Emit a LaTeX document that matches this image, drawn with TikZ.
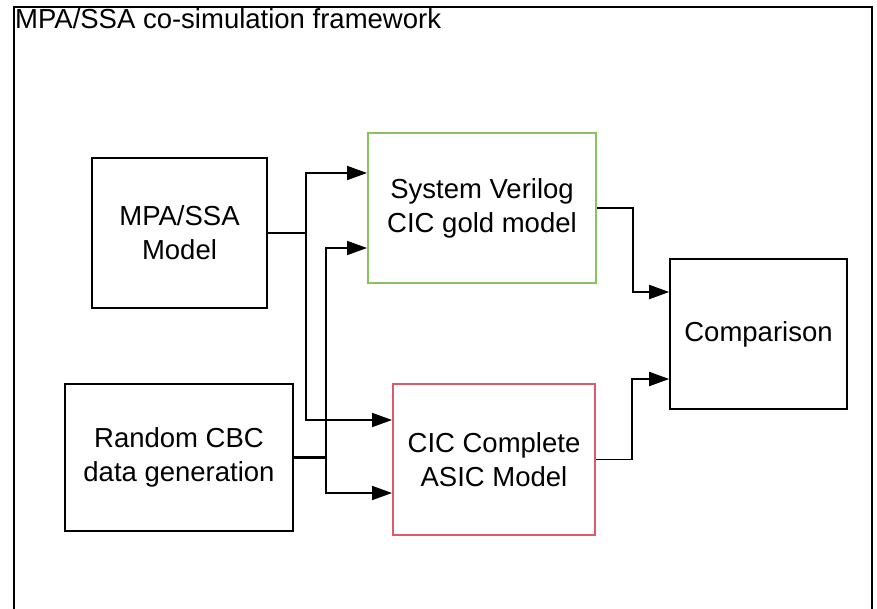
\documentclass[tikz,border=0pt]{standalone}
\usepackage{fontspec}
\setmainfont{Liberation Sans}
\usetikzlibrary{arrows.meta}
\definecolor{goldgreen}{RGB}{135,196,95}
\definecolor{asicred}{RGB}{218,92,106}
\begin{document}
\begin{tikzpicture}[x=1pt,y=1pt,
  block/.style={draw=black,line width=2pt,inner sep=0pt,align=center,
    font=\fontsize{27.5}{34}\selectfont},
  link/.style={line width=1.8pt,-{Triangle[length=20pt,width=14pt]}},
]
\useasboundingbox (0,0) rectangle (877,-608);
\clip (0,0) rectangle (877,-608);

% framework border and title
\draw[line width=2pt] (14,-630) -- (14,-7) -- (872,-7) -- (872,-630);
\node[anchor=base west,inner sep=0pt,font=\fontsize{27.5}{34}\selectfont] (title) at (15,-28) {MPA/SSA co-simulation framework};

% blocks
\node[block,minimum width=175pt,minimum height=150pt] (mpa) at (179.5,-233) {MPA/SSA\\Model};
\node[block,minimum width=228pt,minimum height=147pt] (rnd) at (179,-457.5) {Random CBC\\data generation};
\node[block,draw=goldgreen,minimum width=228pt,minimum height=150pt] (gold) at (482,-208) {System Verilog\\CIC gold model};
\node[block,draw=asicred,minimum width=202pt,minimum height=151pt] (asic) at (494,-459.5) {CIC Complete\\ASIC Model};
\node[block,line width=1.6pt,minimum width=177pt,minimum height=150pt] (cmp) at (758.5,-334) {Comparison};

% model stimulus fan-out
\draw[line width=1.8pt] (mpa.east) -- ++(38,0) coordinate (jm);
\draw[link] (jm) |- ([yshift=35pt]gold.west);
\draw[link] (jm) |- ([yshift=39.5pt]asic.west);

% random data fan-out
\draw[line width=3pt] (rnd.east) -- ++(32,0) coordinate (jr);
\draw[link] (jr) |- ([yshift=-40pt]gold.west);
\draw[link] (jr) |- ([yshift=-33.5pt]asic.west);

% outputs to comparison
\draw[link] (gold.east) -- ++(36,0) |- ([yshift=42pt]cmp.west);
\draw[link] (asic.east) -- ++(36,0) |- ([yshift=-45pt]cmp.west);
\end{tikzpicture}
\end{document}
